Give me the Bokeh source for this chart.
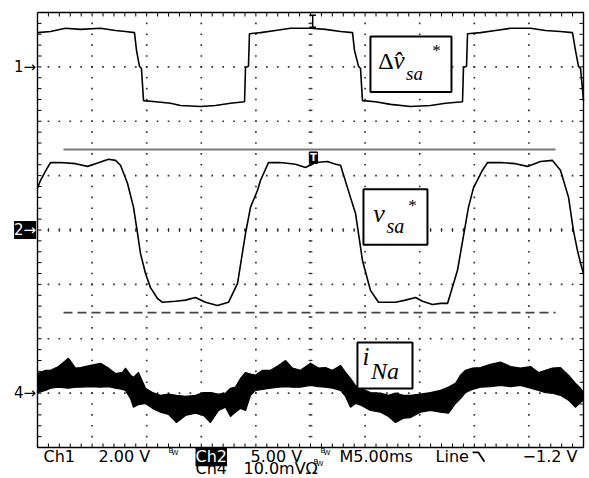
import numpy as np
from bokeh.plotting import figure
from bokeh.models import Range1d, Label
from bokeh.embed import file_html
from bokeh.resources import INLINE

# ---- data: time in ms (5 ms/div), vertical position in screen divisions ----
T1 = [0.00, 1.19, 2.56, 3.94, 5.77, 7.14, 8.06, 8.88, 9.07, 9.34,
      9.52, 9.71, 10.81, 12.18, 13.10, 14.93, 16.30, 17.67, 18.96, 19.05,
      19.32, 19.41, 20.42, 21.79, 23.17, 25.00, 26.37, 27.75, 28.85, 29.03,
      29.40, 29.58, 29.76, 30.95, 32.33, 34.16, 35.99, 37.36, 38.92, 39.01,
      39.29, 39.38, 40.57, 41.94, 43.32, 45.15, 46.52, 47.89, 48.99, 49.27,
      49.54, 49.73, 50.00]
CH1 = [3.63, 3.65, 3.71, 3.69, 3.71, 3.67, 3.65, 3.63, 3.30, 3.01,
       2.97, 2.38, 2.36, 2.33, 2.29, 2.27, 2.29, 2.33, 2.36, 2.99,
       3.01, 3.61, 3.63, 3.67, 3.71, 3.71, 3.69, 3.65, 3.63, 3.30,
       3.01, 2.97, 2.38, 2.36, 2.31, 2.27, 2.29, 2.33, 2.36, 2.99,
       3.01, 3.61, 3.63, 3.67, 3.71, 3.71, 3.67, 3.65, 3.63, 3.30,
       3.01, 2.97, 2.38]

T2 = [0.00, 0.27, 0.92, 1.19, 2.11, 3.48, 4.58, 5.31, 6.50, 7.14,
      7.60, 8.24, 8.79, 9.16, 9.43, 9.89, 10.35, 10.99, 11.45, 12.64,
      13.55, 14.47, 15.38, 16.48, 17.49, 18.32, 19.05, 19.51, 20.15, 20.42,
      21.15, 22.25, 23.63, 24.54, 25.46, 26.56, 27.29, 27.75, 28.66, 29.12,
      29.76, 30.49, 31.23, 32.78, 33.70, 34.62, 35.26, 36.17, 36.90, 37.55,
      38.46, 39.47, 39.93, 40.75, 41.21, 42.40, 43.77, 44.87, 46.06, 47.16,
      47.89, 48.63, 49.08, 49.45, 49.73, 50.00]
CH2 = [0.77, 0.91, 1.15, 1.24, 1.24, 1.22, 1.17, 1.22, 1.30, 1.28,
       1.19, 0.86, 0.42, -0.06, -0.43, -0.80, -1.06, -1.26, -1.33, -1.31,
       -1.29, -1.24, -1.33, -1.39, -1.33, -0.98, -0.06, 0.42, 0.73, 0.91,
       1.24, 1.24, 1.21, 1.15, 1.24, 1.26, 1.21, 1.19, 0.60, 0.31,
       -0.56, -1.11, -1.33, -1.33, -1.29, -1.24, -1.31, -1.37, -1.35, -1.35,
       -0.74, 0.42, 0.78, 1.10, 1.24, 1.24, 1.22, 1.17, 1.26, 1.28,
       1.10, 0.60, -0.01, -0.38, -0.61, -0.80]

T4 = [0.00, 0.73, 1.19, 1.92, 2.84, 3.48, 3.94, 4.85, 5.77, 6.50,
      7.14, 7.78, 8.06, 8.52, 8.79, 9.25, 9.89, 10.53, 11.26, 11.99,
      12.73, 13.55, 14.47, 15.20, 15.84, 16.58, 17.22, 17.67, 18.13, 18.59,
      19.05, 19.51, 19.96, 20.60, 21.34, 22.07, 22.71, 23.35, 24.08, 25.00,
      25.73, 26.37, 27.01, 27.75, 28.21, 28.66, 29.12, 29.58, 30.49, 31.41,
      32.14, 32.78, 33.52, 34.16, 35.07, 35.99, 36.90, 37.64, 38.28, 38.74,
      39.19, 39.84, 40.57, 41.48, 42.40, 43.32, 44.23, 45.15, 45.88, 46.52,
      47.16, 47.89, 48.63, 49.27, 49.73, 50.00]
CH4_UPPER = [-2.64, -2.58, -2.58, -2.51, -2.36, -2.54, -2.53, -2.49, -2.45, -2.54,
             -2.64, -2.62, -2.54, -2.67, -2.71, -2.62, -2.91, -2.99, -3.04, -3.02,
             -3.04, -3.06, -3.04, -2.99, -2.99, -3.02, -3.00, -2.91, -2.89, -2.73,
             -2.62, -2.65, -2.67, -2.58, -2.58, -2.49, -2.40, -2.54, -2.58, -2.45,
             -2.54, -2.53, -2.58, -2.49, -2.62, -2.73, -2.86, -2.91, -2.99, -3.00,
             -3.04, -3.00, -3.04, -3.04, -3.02, -2.99, -2.95, -2.89, -2.82, -2.67,
             -2.58, -2.54, -2.53, -2.47, -2.43, -2.51, -2.54, -2.51, -2.62, -2.58,
             -2.54, -2.53, -2.67, -2.82, -2.91, -2.99]
CH4_LOWER = [-2.99, -2.95, -2.91, -2.89, -2.91, -2.89, -2.89, -2.88, -2.89, -2.88,
             -2.91, -2.93, -2.95, -3.10, -3.26, -3.21, -3.19, -3.28, -3.35, -3.39,
             -3.54, -3.41, -3.37, -3.41, -3.54, -3.32, -3.26, -3.43, -3.35, -3.28,
             -3.32, -3.04, -2.95, -2.93, -2.91, -2.89, -2.88, -2.89, -2.89, -2.86,
             -2.88, -2.89, -2.91, -2.95, -3.06, -3.26, -3.19, -3.22, -3.32, -3.35,
             -3.43, -3.54, -3.46, -3.45, -3.35, -3.32, -3.35, -3.37, -3.19, -3.10,
             -2.99, -2.93, -2.89, -2.88, -2.86, -2.88, -2.86, -2.91, -2.95, -2.99,
             -3.00, -3.04, -3.13, -3.26, -3.17, -3.13]

CH_NAMES = ["1", "2", "4"]
CH_REFS = [3.0, 0.0, -3.0]
TRIG_TIME = 25.2
CURSOR_START, CURSOR_END = 2.38, 47.44
CURSOR_HI, CURSOR_LO = 1.48, -1.52
CH2_TRIG_LEVEL = 1.33

N_XDIV, N_YDIV = 10, 8
MS_PER_DIV = 5.0
X_MAX = N_XDIV * MS_PER_DIV
Y_HALF = N_YDIV / 2

# canvas geometry: graticule occupies 546 x 435 px, offset 37 px from left, 12 px from top
W, H = 589, 478
GL, GT, GW, GH = 37, 12, 546, 435
PX_MS = GW / X_MAX
PX_DIV = GH / N_YDIV
x_lo = -GL / PX_MS
x_hi = X_MAX + (W - GL - GW) / PX_MS
y_hi = Y_HALF + GT / PX_DIV
y_lo = -Y_HALF - (H - GT - GH) / PX_DIV

p = figure(width=W, height=H, x_range=Range1d(x_lo, x_hi), y_range=Range1d(y_lo, y_hi),
           output_backend="svg", toolbar_location=None,
           x_axis_location=None, y_axis_location=None,
           min_border=0)
p.grid.visible = False
p.outline_line_color = None
p.background_fill_color = "white"
p.border_fill_color = "white"

# ---- graticule ----
sub_x = np.arange(0, X_MAX + 1e-9, MS_PER_DIV / 5)
sub_y = np.arange(-Y_HALF, Y_HALF + 1e-9, 0.2)
gx, gy = [], []
for yl in range(-3, 4):
    gx += list(sub_x[1:-1]); gy += [yl] * (len(sub_x) - 2)
for k in range(1, N_XDIV):
    xl = k * MS_PER_DIV
    gx += [xl] * (len(sub_y) - 2); gy += list(sub_y[1:-1])
p.scatter(gx, gy, marker="square", size=1.7, fill_color="#333333", line_color=None)

tx = 4 / PX_DIV
ty = 4 / PX_MS
xs = list(sub_x[1:-1]); ys = list(sub_y[1:-1])
p.segment(x0=xs, y0=[Y_HALF] * len(xs), x1=xs, y1=[Y_HALF - tx] * len(xs), line_color="black", line_width=1)
p.segment(x0=xs, y0=[-Y_HALF] * len(xs), x1=xs, y1=[-Y_HALF + tx] * len(xs), line_color="black", line_width=1)
p.segment(x0=[0] * len(ys), y0=ys, x1=[ty] * len(ys), y1=ys, line_color="black", line_width=1)
p.segment(x0=[X_MAX] * len(ys), y0=ys, x1=[X_MAX - ty] * len(ys), y1=ys, line_color="black", line_width=1)
cx = X_MAX / 2
p.segment(x0=[cx - 2 / PX_MS] * len(ys), y0=ys, x1=[cx + 2 / PX_MS] * len(ys), y1=ys, line_color="#333333", line_width=1)
p.segment(x0=xs, y0=[-2 / PX_DIV] * len(xs), x1=xs, y1=[2 / PX_DIV] * len(xs), line_color="#333333", line_width=1)
p.line([0, X_MAX, X_MAX, 0, 0], [Y_HALF, Y_HALF, -Y_HALF, -Y_HALF, Y_HALF], line_color="black", line_width=1.4)

# ---- cursor lines ----
p.line([CURSOR_START, CURSOR_END], [CURSOR_HI, CURSOR_HI], line_color="#7a7a7a", line_width=2)
p.line([CURSOR_START, CURSOR_END], [CURSOR_LO, CURSOR_LO], line_color="#444444", line_width=1.8, line_dash="9 5")

# ---- traces ----
p.line(T1, CH1, line_color="black", line_width=1.6)
p.line(T2, CH2, line_color="black", line_width=1.6)
p.varea(x=T4, y1=CH4_LOWER, y2=CH4_UPPER, fill_color="black")
p.line(T4, CH4_UPPER, line_color="black", line_width=1.2)
p.line(T4, CH4_LOWER, line_color="black", line_width=1.2)

# ---- trigger markers ----
p.segment(x0=[TRIG_TIME, TRIG_TIME - 0.3, TRIG_TIME - 0.3], y0=[3.95, 3.95, 3.73],
          x1=[TRIG_TIME, TRIG_TIME + 0.3, TRIG_TIME + 0.3], y1=[3.73, 3.95, 3.73],
          line_color="black", line_width=1.5)
p.rect(x=[TRIG_TIME + 0.07], y=[CH2_TRIG_LEVEL], width=0.75, height=0.21, fill_color="black", line_color="black")
p.add_layout(Label(x=TRIG_TIME + 0.07, y=CH2_TRIG_LEVEL, text="T", text_color="white", text_font="DejaVu Sans",
                   text_font_size="10px", text_font_style="bold", text_align="center", text_baseline="middle"))

# ---- label boxes ----
BOX_L = [30.49, 29.85, 29.30]
BOX_R = [37.91, 35.71, 34.34]
BOX_T = [3.56, 0.75, -2.07]
BOX_B = [2.54, -0.27, -2.915]
p.quad(left=BOX_L, right=BOX_R, top=BOX_T, bottom=BOX_B, fill_color="white", line_color="black", line_width=2)

def lab(text, x, y, size, italic=True, font="Liberation Serif", **kw):
    p.add_layout(Label(x=x, y=y, text=text, text_font=font, text_font_size=size,
                       text_font_style="italic" if italic else "normal", text_color="black", **kw))

lab("\u0394", 31.20, 2.86, "24px", italic=False)
lab("v\u0302", 32.60, 2.86, "25px")
lab("sa", 33.75, 2.69, "19px")
lab("*", 36.15, 3.12, "17px", italic=False)
lab("v", 30.75, 0.03, "26px")
lab("sa", 31.95, -0.12, "20px")
lab("*", 33.95, 0.28, "17px", italic=False)
lab("i", 29.76, -2.58, "25px")
lab("Na", 30.55, -2.84, "24px")

# ---- channel reference markers ----
for name, ref in zip(CH_NAMES, CH_REFS):
    inv = name == "2"
    p.add_layout(Label(x=-0.12, y=ref, text=name + "\u2192", text_font="DejaVu Sans", text_font_size="15px",
                       text_align="right", text_baseline="middle",
                       text_color="white" if inv else "black",
                       background_fill_color="black" if inv else None))

# ---- readout text below the graticule ----
def ro(text, x, y, size="16px", color="black", bg=None, align="left"):
    p.add_layout(Label(x=x, y=y, text=text, text_font="DejaVu Sans", text_font_size=size,
                       text_color=color, background_fill_color=bg, text_align=align,
                       text_baseline="alphabetic"))

L1, L2 = -4.17, -4.385
ro("Ch1", 0.55, L1)
ro("2.00 V", 5.59, L1)
ro("B", 12.00, -4.06, size="7px"); ro("W", 12.27, -4.11, size="7px")
ro("Ch4", 14.47, L2)
ro("10.0mV\u03a9", 18.86, L2)
ro("B", 25.27, -4.26, size="7px"); ro("W", 25.55, -4.31, size="7px")
ro("Ch2", 14.47, L1, color="white", bg="black")
ro("5.00 V", 19.51, L1)
ro("B", 25.92, -4.06, size="7px"); ro("W", 26.19, -4.11, size="7px")
ro("M5.00ms", 27.66, L1)
ro("Line", 36.45, L1)
p.line([39.84, 40.38, 40.93], [-4.09, -4.09, -4.26], line_color="black", line_width=1.8)
ro("\u22121.2 V", 49.45, L1, align="right")

open("out.html", "w").write(file_html(p, INLINE))
